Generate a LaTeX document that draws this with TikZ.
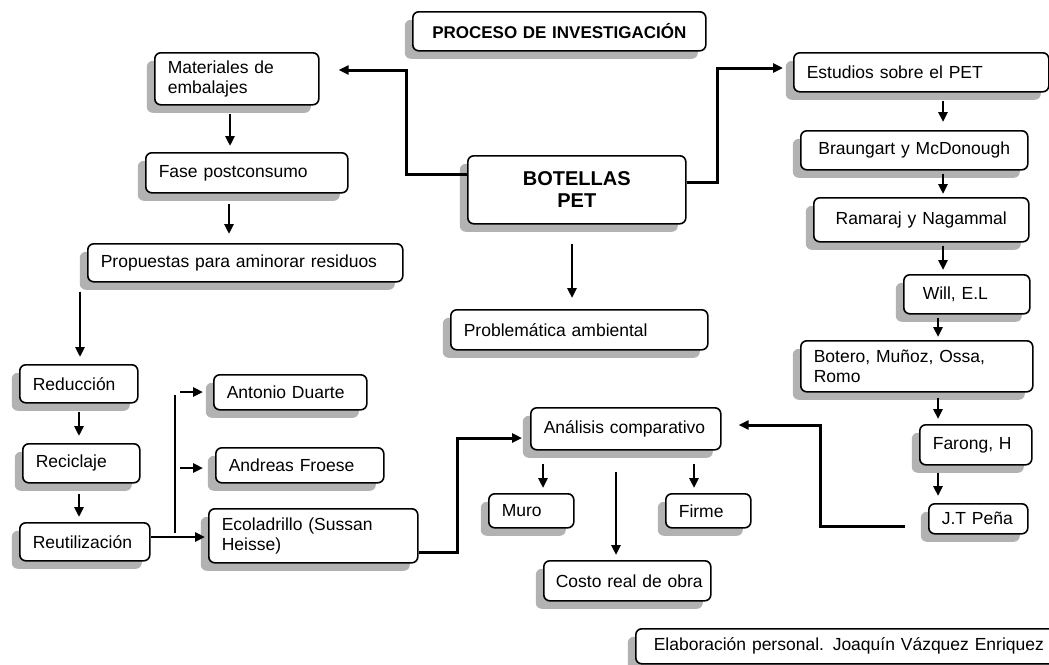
\documentclass[tikz,border=0pt]{standalone}
\usepackage{fontspec}
\setmainfont{Liberation Sans}
\usetikzlibrary{arrows.meta,shadows}

\begin{document}
\begin{tikzpicture}[x=1pt,y=-1pt,
  box/.style={draw=black, line width=1.6pt, rounded corners=6pt, fill=white,
    anchor=north west, align=left, inner xsep=13pt, inner ysep=0pt,
    font=\fontsize{17.5}{20}\selectfont,
    drop shadow={shadow xshift=-8pt, shadow yshift=-8pt, fill=gray!60, opacity=1}},
  wh/.style 2 args={text width=#1, minimum height=#2},
  ctr/.style={align=center},
  conn/.style={line width=2.8pt},
  arr/.style={line width=2.6pt, -{Triangle[length=10pt,width=9pt]}},
  barr/.style={line width=3pt, -{Triangle[length=10pt,width=9pt]}},
]
\useasboundingbox (0,0) rectangle (1049,664);

% ---- boxes ----
\node[box, ctr, wh={267pt}{39pt}, font=\bfseries\fontsize{17}{20}\selectfont] (title) at (412,11) {PROCESO DE INVESTIGACIÓN};
\node[box, wh={138pt}{52pt}] (mat) at (154,52) {Materiales de\\embalajes};
\node[box, wh={229pt}{39pt}] (est) at (793,52) {Estudios sobre el PET};
\node[box, ctr, wh={192pt}{68pt}, font=\bfseries\fontsize{20}{22}\selectfont] (bot) at (467,155) {BOTELLAS\\PET};
\node[box, wh={176pt}{40pt}] (fase) at (145,152) {Fase postconsumo};
\node[box, ctr, wh={201pt}{39pt}] (bra) at (800,130) {Braungart y McDonough};
\node[box, ctr, wh={189pt}{44pt}] (ram) at (813,197) {Ramaraj y Nagammal};
\node[box, wh={289pt}{38pt}] (prop) at (87,243) {Propuestas para aminorar residuos};
\node[box, wh={100pt}{39pt}, inner xsep=19pt, text width=88pt] (will) at (903,274) {Will, E.L};
\node[box, wh={231pt}{40pt}] (prob) at (450,309) {Problemática ambiental};
\node[box, wh={206pt}{51pt}] (bote) at (800,340) {Botero, Muñoz, Ossa,\\Romo};
\node[box, wh={92pt}{38pt}] (red) at (19,364) {Reducción};
\node[box, wh={127pt}{35pt}] (ant) at (213,374) {Antonio Duarte};
\node[box, wh={164pt}{42pt}] (ana) at (530,407) {Análisis comparativo};
\node[box, wh={86pt}{40pt}] (far) at (919,424) {Farong, H};
\node[box, wh={142pt}{35pt}] (andr) at (215,447) {Andreas Froese};
\node[box, wh={91pt}{39pt}] (rec) at (22,443) {Reciclaje};
\node[box, wh={59pt}{34pt}] (muro) at (488,493) {Muro};
\node[box, wh={59pt}{34pt}] (firme) at (665,493) {Firme};
\node[box, wh={73pt}{30pt}] (jt) at (928,503) {J.T Peña};
\node[box, wh={104pt}{38pt}] (reu) at (19,522) {Reutilización};
\node[box, wh={183pt}{54pt}] (eco) at (208,508) {Ecoladrillo (Sussan\\Heisse)};
\node[box, wh={155pt}{40pt}, inner xsep=6pt] (costo) at (543,560) {\hspace*{6pt}Costo real de obra};
\node[box, wh={404pt}{35pt}, inner xsep=18pt] (elab) at (635,628) {Elaboración personal. Joaquín Vázquez Enriquez};

% ---- guide coordinates ----
\coordinate (xm) at (230,0);
\coordinate (xf) at (229,0);
\coordinate (xl) at (79,0);
\coordinate (xp) at (80,0);
\coordinate (xc) at (572,0);
\coordinate (xmu) at (543,0);
\coordinate (xfi) at (694,0);
\coordinate (xco) at (616,0);
\coordinate (xr1) at (943,0);
\coordinate (xr2) at (938,0);

% ---- left column ----
\draw[arr, shorten <=8pt, shorten >=6pt] (mat.south -| xm) -- (fase.north -| xm);
\draw[arr, shorten <=10pt, shorten >=9pt] (fase.south -| xf) -- (prop.north -| xf);
\draw[arr, shorten <=9pt, shorten >=7pt] (prop.south -| xp) -- (red.north -| xp);
\draw[arr, shorten <=8pt, shorten >=7pt] (red.south -| xl) -- (rec.north -| xl);
\draw[arr, shorten <=10pt, shorten >=5pt] (rec.south -| xl) -- (reu.north -| xl);
\coordinate (r1) at (160,537);
\draw[arr, shorten >=3pt] (reu.east |- r1) -- (eco.west |- r1);
\coordinate (v1) at (175,395);
\coordinate (v2) at (175,533);
\draw[conn] (v1) -- (v2);
\coordinate (a1) at (180,392);
\coordinate (a2) at (180,468);
\draw[arr, shorten >=10pt] (a1) -- (ant.west |- a1);
\draw[arr, shorten >=12pt] (a2) -- (andr.west |- a2);

% ---- from the central box ----
\coordinate (c1) at (406,174);
\coordinate (c2) at (406,70);
\draw[barr, shorten >=19pt] (bot.west |- c1) -- (c1) -- (c2) -- (mat.east |- c2);
\coordinate (c3) at (717,182);
\coordinate (c4) at (717,68);
\draw[barr, shorten >=10pt] (bot.east |- c3) -- (c3) -- (c4) -- (est.west |- c4);
\draw[arr, shorten <=19pt, shorten >=11pt] (bot.south -| xc) -- (prob.north -| xc);

% ---- comparative analysis ----
\coordinate (c5) at (457,552);
\coordinate (c6) at (457,438);
\draw[barr, shorten >=8pt] (eco.east |- c5) -- (c5) -- (c6) -- (ana.west |- c6);
\coordinate (c7) at (820,526);
\coordinate (c8) at (820,425);
\draw[barr, shorten <=23pt, shorten >=17pt] (jt.west |- c7) -- (c7) -- (c8) -- (ana.east |- c8);
\draw[arr, shorten <=13pt, shorten >=5pt] (ana.south -| xmu) -- (muro.north -| xmu);
\draw[arr, shorten <=13pt, shorten >=5pt] (ana.south -| xfi) -- (firme.north -| xfi);
\draw[arr, shorten <=21pt, shorten >=5pt] (ana.south -| xco) -- (costo.north -| xco);

% ---- right column ----
\draw[arr, shorten <=8pt, shorten >=8pt] (est.south -| xr1) -- (bra.north -| xr1);
\draw[arr, shorten <=3pt, shorten >=3pt] (bra.south -| xr1) -- (ram.north -| xr1);
\draw[arr, shorten <=3pt, shorten >=4pt] (ram.south -| xr1) -- (will.north -| xr1);
\draw[arr, shorten <=3pt, shorten >=3pt] (will.south -| xr2) -- (bote.north -| xr2);
\draw[arr, shorten <=5pt, shorten >=5pt] (bote.south -| xr2) -- (far.north -| xr2);
\draw[arr, shorten <=7pt, shorten >=7pt] (far.south -| xr2) -- (jt.north -| xr2);
\end{tikzpicture}
\end{document}
